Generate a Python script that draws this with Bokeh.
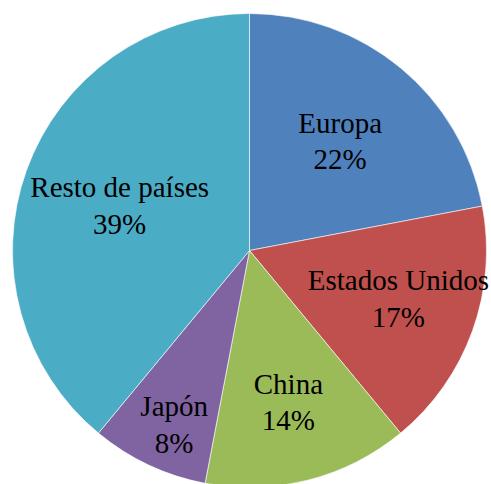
import numpy as np
from bokeh.plotting import figure
from bokeh.models import ColumnDataSource
from bokeh.core.properties import value
from bokeh.embed import file_html
from bokeh.resources import INLINE

categories = ["Europa", "Estados Unidos", "China", "Japón", "Resto de países"]
shares = [22, 17, 14, 8, 39]
colors = ["#4F81BD", "#C0504D", "#9BBB59", "#8064A2", "#4BACC6"]
label_radius = [0.60, 0.66, 0.66, 0.80, 0.58]
label_angle_shift = [0.0, 2.0, 0.0, 1.8, 0.6]

W, H = 491, 484
cx, cy, R = 249, 484 - 250, 237

vals = np.array(shares, dtype=float)
frac = vals / vals.sum()
cum = np.concatenate([[0], np.cumsum(frac)])
# clockwise from top
start = np.pi / 2 - cum[1:] * 2 * np.pi
end = np.pi / 2 - cum[:-1] * 2 * np.pi
mid = (start + end) / 2 + np.radians(label_angle_shift)
lr = np.array(label_radius) * R
lx = cx + lr * np.cos(mid)
ly = cy + lr * np.sin(mid)
labels = [f"{c}\n{s}%" for c, s in zip(categories, shares)]

src = ColumnDataSource(dict(start=start, end=end, color=colors,
                            lx=lx, ly=ly, label=labels))

p = figure(width=W, height=H, x_range=(0, W), y_range=(0, H),
           output_backend="svg", toolbar_location=None, min_border=0)
p.axis.visible = False
p.grid.visible = False
p.outline_line_color = None
p.background_fill_color = "white"

p.wedge(x=cx, y=cy, radius=R, start_angle="start", end_angle="end",
        fill_color="color", line_color="white", line_width=0.6, source=src)
p.text(x="lx", y="ly", text="label", source=src, text_align="center",
       text_baseline="middle", text_font=value("Liberation Serif"),
       text_font_size="29px", text_color="black", text_line_height=1.15)

open("out.html", "w").write(file_html(p, INLINE))
